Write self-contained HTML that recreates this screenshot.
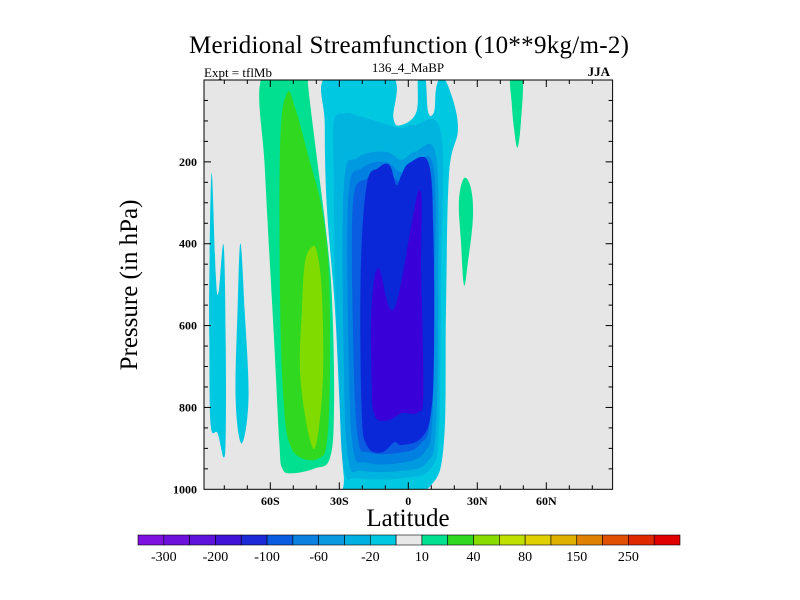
<!DOCTYPE html>
<html><head><meta charset="utf-8">
<style>
html,body{margin:0;padding:0;background:#fff;}
svg{display:block;font-family:"Liberation Serif",serif;}
</style></head>
<body>
<svg id="chart" width="800" height="600" viewBox="0 0 800 600">
<text x="409" y="53" text-anchor="middle" font-size="25" textLength="440">Meridional Streamfunction (10**9kg/m-2)</text>
<text x="204" y="77" font-size="13">Expt = tflMb</text>
<text x="408" y="72" text-anchor="middle" font-size="13">136_4_MaBP</text>
<text x="610" y="76" text-anchor="end" font-size="13" font-weight="bold">JJA</text>
<defs><clipPath id="pc"><rect x="204" y="80" width="408.6" height="409.3"/></clipPath></defs>
<rect x="204" y="80" width="408.6" height="409.3" fill="#e6e6e6"/>
<g id="fills" clip-path="url(#pc)"></g>
<g id="axes"></g>
<rect x="204" y="80" width="408.6" height="409.3" fill="none" stroke="#000" stroke-width="1"/>
<text x="0" y="0" font-size="25" text-anchor="middle" transform="translate(137,285) rotate(-90)">Pressure (in hPa)</text>
<text x="408" y="526" font-size="25" text-anchor="middle">Latitude</text>
<g id="cbar"></g>
</svg>
<script>
const latTicks=[-60,-30,0,30,60];
const latTickLabels=["60S","30S","0","30N","60N"];
const presTicks=[200,400,600,800,1000];
const presTickLabels=["200","400","600","800","1000"];
const cbarColors=["#7d12e0","#6e10dc","#5e12dc","#4212d8","#1c2ad8","#0a5ce0","#0a80e0","#0a9ae0","#00b0e0","#00c8e0","#e8e8e8","#00e090","#30d820","#88dc00","#c0e000","#e0d000","#e0b000","#e08000","#e05000","#e02800","#e00000"];
const cbarLabels=["-300","-200","-100","-60","-20","10","40","80","150","250"];
const regionColors=["#00e090","#30d820","#80dc00","#00c8e0","#00b4e0","#009ae0","#0080e0","#0a5ce0","#0a28d8","#3a00d8","#00c8e0","#00c8e0","#00e090","#00e090"];
const regionShapes=[
[[-63.5,-10],[-62.2,232],[-58.3,640],[-56.1,885],[-54.8,949],[-50.5,961],[-40.6,949],[-34.1,924],[-32.3,802],[-33,557],[-35.2,396],[-40.6,152],[-43.6,12],[-43.8,-10]],
[[-52.7,32],[-55.7,152],[-55.7,557],[-54,802],[-51.4,892],[-46.2,924],[-38.9,924],[-35.4,885],[-34.1,721],[-34.5,477],[-37.6,313],[-43.2,191],[-49.2,68]],
[[-41.9,408],[-39.7,421],[-37.6,518],[-37.1,721],[-39.7,880],[-42.7,880],[-47,721],[-46.2,557],[-44.9,445]],
[[-35.4,-10],[-36.3,110],[-35.4,313],[-31.9,557],[-29.8,802],[-28.1,966],[-25.9,1010],[-3,1010],[9.9,990],[15.5,885],[16.4,557],[17.7,232],[21.6,117],[17.7,20],[14.2,-5],[12.1,20],[11.2,78],[8.6,78],[7.3,-10],[4.3,-10],[3.5,78],[-3,110],[-6.5,93],[-7.3,-10]],
[[-32.4,103],[-27.6,81],[-20.3,90],[-8.6,110],[-3,117],[2.6,110],[14.2,130],[14.2,477],[13.4,844],[9.9,949],[-3,973],[-21.6,973],[-28.1,949],[-30.2,721],[-31.9,477],[-32.4,232]],
[[-28,260],[-22,190],[-10,175],[-3,195],[3,175],[12,185],[13,500],[12,850],[8,935],[-3,955],[-20,955],[-26,930],[-28,700]],
[[-26,280],[-20,215],[-10,200],[-3,225],[3,200],[11,215],[11.5,500],[10.5,830],[7,910],[-3,935],[-18,935],[-24,900],[-26,650]],
[[-24,300],[-18,240],[-10,225],[-3,250],[3,225],[10,240],[10.5,500],[9.5,820],[5,890],[-3,910],[-17,910],[-22,870],[-24,620]],
[[-18.1,257],[-13,215],[-8.2,208],[-5.2,257],[-3,232],[0.4,203],[8.6,200],[10.8,355],[11.2,641],[9.9,812],[5.6,875],[-3,892],[-6,885],[-11.7,910],[-18.1,892],[-20.3,802],[-20.7,477]],
[[-13,460],[-6,557],[4.7,269],[5.6,477],[6.5,763],[4.3,812],[-3,814],[-8.6,831],[-14.7,819],[-16,721],[-16,557]],
[[-85.5,227],[-83.7,477],[-82.5,518],[-80.3,403],[-79.4,641],[-79.4,868],[-80.3,922],[-82.9,863],[-85.9,844],[-86.5,650],[-86.5,477]],
[[-73,399],[-71.2,557],[-69.5,778],[-72.5,888],[-75.1,778],[-74.2,557]],
[[24.2,240],[27.2,264],[28.1,337],[25.9,445],[24.2,501],[22.9,396],[22,298]],
[[44.5,-10],[49.6,-10],[49,100],[47.5,165],[46,120],[45,60]]
];
const NS="http://www.w3.org/2000/svg";
function xs(lat){return 408.3+lat*2.3;}
function ys(p){return 80+p*0.4093;}
function smoothPath(pts){
  const P=pts.map(q=>[xs(q[0]),ys(q[1])]);const n=P.length;
  let d='M'+P[0][0].toFixed(1)+','+P[0][1].toFixed(1);
  for(let i=0;i<n;i++){
    const p0=P[(i-1+n)%n],p1=P[i],p2=P[(i+1)%n],p3=P[(i+2)%n];const t=0.18;
    const c1=[p1[0]+(p2[0]-p0[0])*t,p1[1]+(p2[1]-p0[1])*t];
    const c2=[p2[0]-(p3[0]-p1[0])*t,p2[1]-(p3[1]-p1[1])*t];
    d+='C'+c1[0].toFixed(1)+','+c1[1].toFixed(1)+' '+c2[0].toFixed(1)+','+c2[1].toFixed(1)+' '+p2[0].toFixed(1)+','+p2[1].toFixed(1);
  }
  return d+'Z';
}
const fills=document.getElementById('fills');
regionShapes.forEach((pts,i)=>{
  const pg=document.createElementNS(NS,'path');
  pg.setAttribute('d',smoothPath(pts));
  pg.setAttribute('fill',regionColors[i]);
  
  
  fills.appendChild(pg);
});
const ax=document.getElementById('axes');
function line(x1,y1,x2,y2,name){
  const l=document.createElementNS(NS,'line');
  l.setAttribute('x1',x1);l.setAttribute('y1',y1);l.setAttribute('x2',x2);l.setAttribute('y2',y2);
  l.setAttribute('stroke','#000');l.setAttribute('stroke-width','1');
  
  
  ax.appendChild(l);
}
function text(x,y,s,anchor,name){
  const t=document.createElementNS(NS,'text');
  t.setAttribute('x',x);t.setAttribute('y',y);t.setAttribute('text-anchor',anchor);
  t.setAttribute('font-size','12');t.setAttribute('font-weight','bold');
  t.textContent=s;
  
  
  ax.appendChild(t);
}
for(let lat=-80;lat<=80;lat+=10){
  const big=lat%30===0;const x=xs(lat);const L=big?7:4;
  line(x,489.3,x,489.3-L,'x-tick');
  line(x,80,x,80+L,'x-tick-top');
}
for(let p=50;p<1000;p+=50){
  const big=p%200===0;const y=ys(p);const L=big?7:4;
  line(204,y,204+L,y,'y-tick');
  line(612.6,y,612.6-L,y,'y-tick-right');
}
latTicks.forEach((v,i)=>text(xs(v),505,latTickLabels[i],'middle','x-tick-label'));
presTicks.forEach((v,i)=>text(197,ys(v)+4,presTickLabels[i],'end','y-tick-label'));
const cb=document.getElementById('cbar');
const cx0=138,cw=(680-138)/cbarColors.length;
cbarColors.forEach((c,i)=>{
  const r=document.createElementNS(NS,'rect');
  r.setAttribute('x',cx0+i*cw);r.setAttribute('y',535);r.setAttribute('width',cw);r.setAttribute('height',10);
  r.setAttribute('fill',c);r.setAttribute('stroke','#000');r.setAttribute('stroke-width','0.6');
  
  
  cb.appendChild(r);
});
cbarLabels.forEach((s,i)=>{
  const t=document.createElementNS(NS,'text');
  t.setAttribute('x',cx0+(2*i+1)*cw);t.setAttribute('y',561);t.setAttribute('text-anchor','middle');t.setAttribute('font-size','14');
  t.textContent=s;
  
  
  cb.appendChild(t);
});
</script>
</body></html>
